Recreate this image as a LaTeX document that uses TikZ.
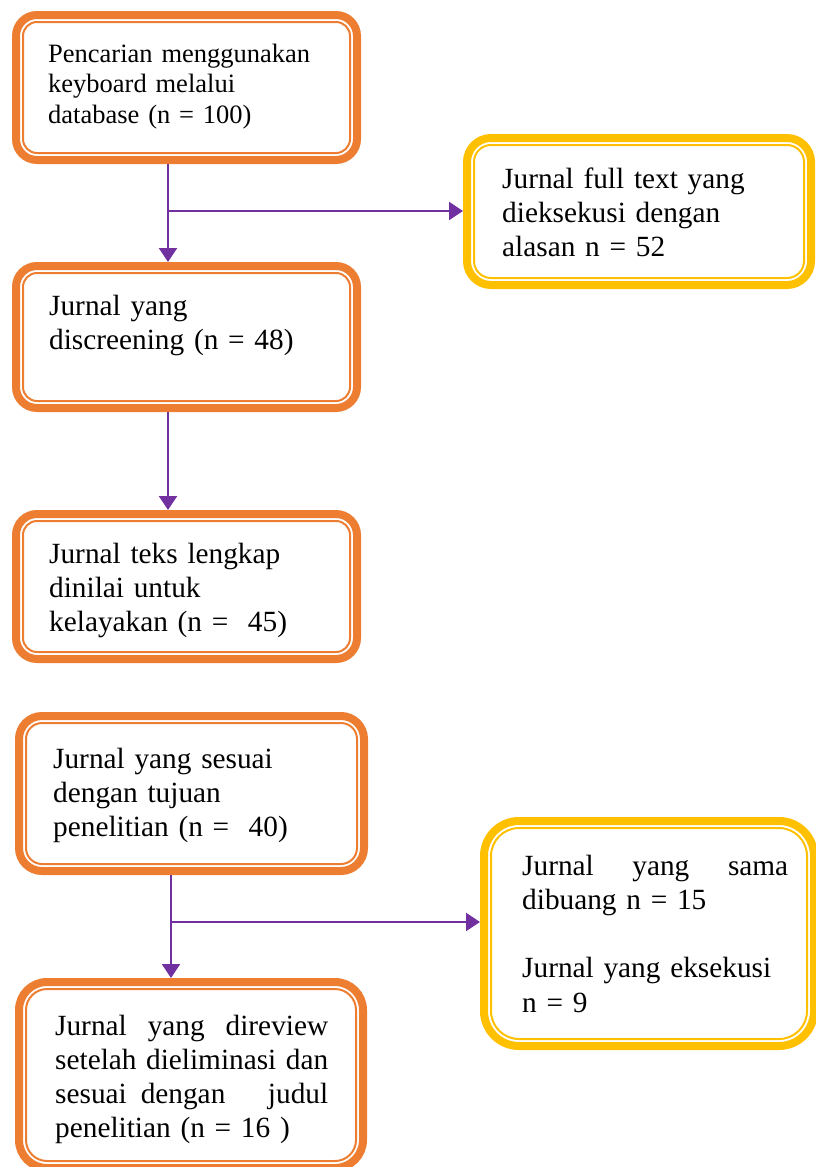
\documentclass[tikz,border=0pt]{standalone}
\usepackage{fontspec}
\setmainfont{Liberation Serif}
\usetikzlibrary{arrows.meta,calc}
\definecolor{borange}{HTML}{ED7D31}
\definecolor{byellow}{HTML}{FFC000}
\definecolor{cpurple}{HTML}{7030A0}
\tikzset{
  obox/.style n args={2}{draw=#1, line width=8pt, rounded corners=#2pt, inner sep=0pt},
  innerline/.style={line width=2pt},
  conn/.style={draw=cpurple, line width=2.4pt, -{Triangle[width=18pt,length=14pt]}},
  txt/.style={anchor=base west, inner sep=0pt, align=left, text width=#1},
  smallfont/.style={font=\fontsize{26.5pt}{30.5pt}\selectfont},
  bigfont/.style={font=\fontsize{29.3pt}{34.3pt}\selectfont},
}
\newcommand\boxline[3]{\draw[innerline,#2,rounded corners=#3pt] ([shift={(11pt,-11pt)}]#1.north west) rectangle ([shift={(-11pt,11pt)}]#1.south east);}
\newcommand\jline[1]{\makebox[\linewidth][l]{#1}}
\begin{document}
\begin{tikzpicture}[x=1pt,y=-1pt]
\useasboundingbox (0,0) rectangle (816,1167);
% boxes
\node[obox={borange}{21}, minimum width=341pt, minimum height=145pt] (b1) at (186.5,87.5) {};
\boxline{b1}{borange}{14}
\node[obox={borange}{21}, minimum width=341pt, minimum height=142pt] (b2) at (186.5,337) {};
\boxline{b2}{borange}{14}
\node[obox={borange}{21}, minimum width=341pt, minimum height=145pt] (b3) at (186.5,586.5) {};
\boxline{b3}{borange}{14}
\node[obox={borange}{23}, minimum width=345pt, minimum height=155pt] (b4) at (191.5,793.5) {};
\boxline{b4}{borange}{16}
\node[obox={borange}{28}, minimum width=344pt, minimum height=186pt] (b5) at (191,1075) {};
\boxline{b5}{borange}{21}
\node[obox={byellow}{24}, minimum width=344pt, minimum height=147pt] (y1) at (639,211.5) {};
\boxline{y1}{byellow}{17}
\node[obox={byellow}{35}, minimum width=330pt, minimum height=225pt] (y2) at (649,933.5) {};
\boxline{y2}{byellow}{28}
% texts
\node[txt=300pt, smallfont] (t1) at (48,62) {Pencarian menggunakan\\keyboard melalui\\database (n = 100)};
\node[txt=300pt, bigfont] (t2) at (49,315) {Jurnal yang\\discreening (n = 48)};
\node[txt=300pt, bigfont] (t3) at (49,563) {Jurnal teks lengkap\\dinilai untuk\\kelayakan (n = \ 45)};
\node[txt=300pt, bigfont] (t4) at (53,768) {Jurnal yang sesuai\\dengan tujuan\\penelitian (n = \ 40)};
\node[txt=273pt, bigfont] (t5) at (55,1035) {\jline{Jurnal\hfill yang\hfill direview}\\\jline{setelah\hfill dieliminasi\hfill dan}\\\jline{sesuai\hspace{14pt}dengan\hfill judul}\\penelitian (n = 16 )};
\node[txt=300pt, bigfont] (ty1) at (502,188) {Jurnal full text yang\\dieksekusi dengan\\alasan n = 52};
\node[txt=266pt, bigfont] (ty2) at (522,875) {\jline{Jurnal\hfill yang\hfill sama}\\dibuang n = 15\\[34.3pt]Jurnal yang eksekusi\\n = 9};
% connectors
\coordinate (j1) at (168,211);
\coordinate (j2) at (171,922);
\draw[conn] (j1 |- b1.south) -- (j1 |- b2.north);
\draw[conn] (j1) -- (j1 -| y1.west);
\draw[conn] (j1 |- b2.south) -- (j1 |- b3.north);
\draw[conn] (j2 |- b4.south) -- (j2 |- b5.north);
\draw[conn] (j2) -- (j2 -| y2.west);
\end{tikzpicture}
\end{document}
